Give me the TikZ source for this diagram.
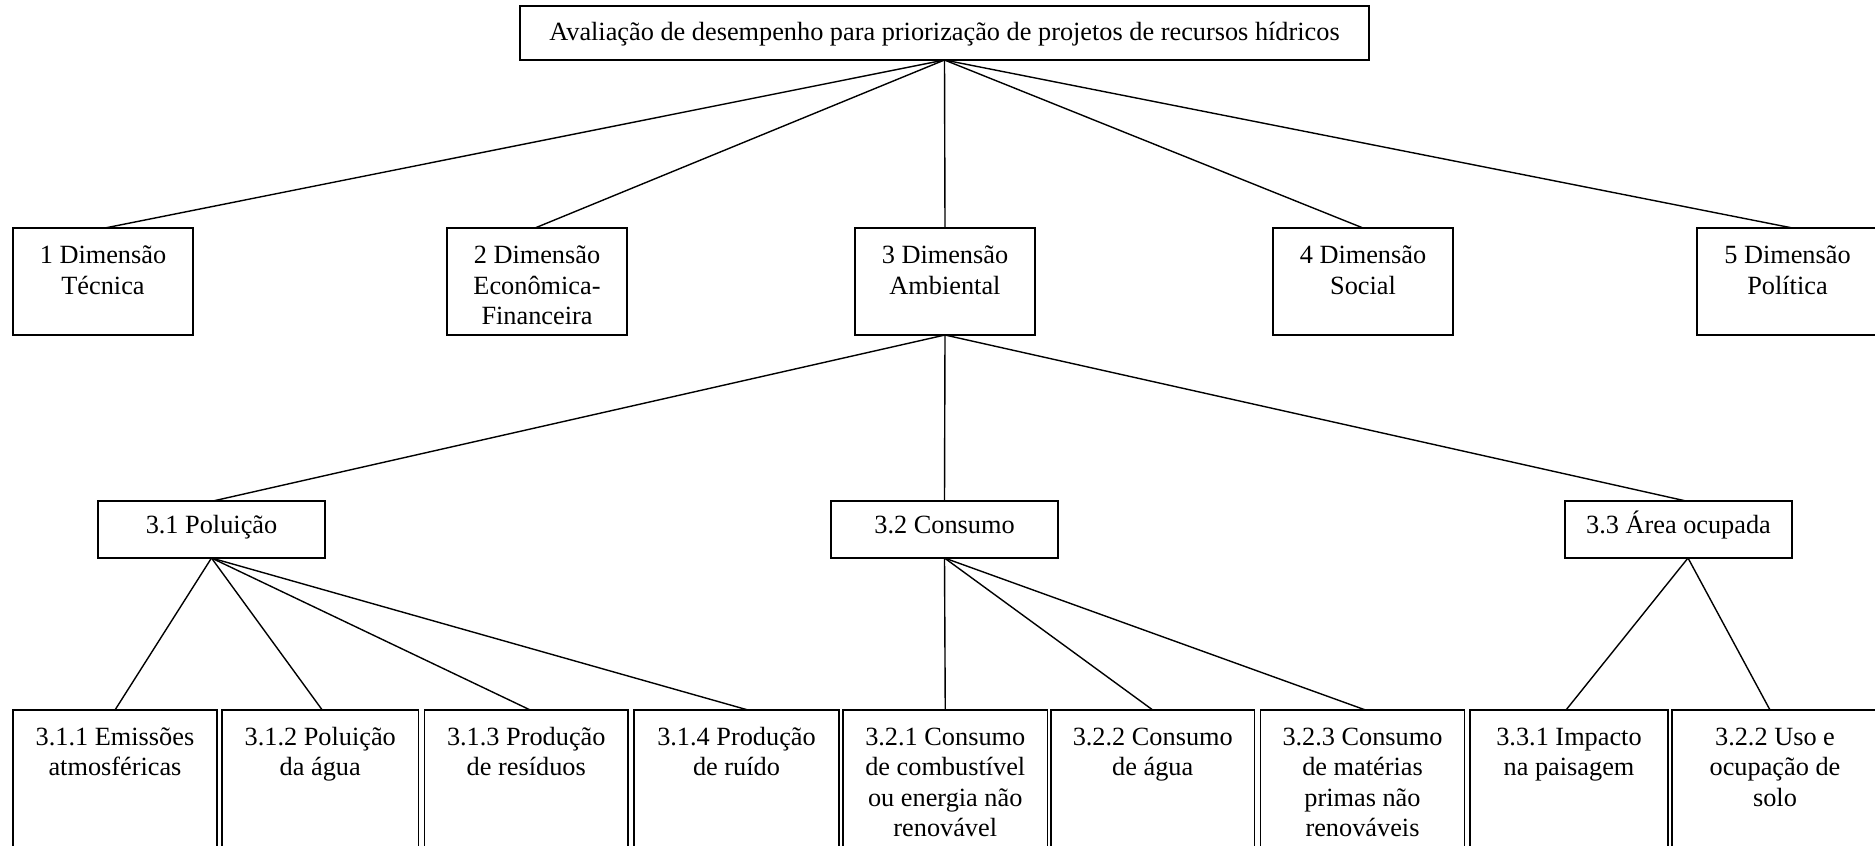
\documentclass[tikz,border=0pt]{standalone}
\usepackage{fontspec}
\setmainfont{Liberation Serif}
% one drawing unit = 0.5pt; coordinates below are given in these units, y downwards
\newdimen\pu \pu=0.5pt
% box contents: width, height, baseline of the first line from the top, text
\newcommand{\bxt}[4]{\parbox[c][#2\pu][t]{#1\pu}{\centering\rule{0pt}{#3\pu}#4}}
\tikzset{
  box/.style={draw, line width=0.7pt, inner sep=0pt, outer sep=0pt, anchor=north west,
              font=\fontsize{13.15pt}{15.25pt}\selectfont},
  link/.style={line width=0.7pt}
}
\begin{document}
\begin{tikzpicture}[x=0.5pt, y=-0.5pt]
\useasboundingbox (0,0) rectangle (1875,846);
\fill[white] (0,0) rectangle (1875,846);
\clip (0,0) rectangle (1875,846);

% root
\node[box] (root) at (520,6) {\bxt{849}{54}{35}{Avaliação de desempenho para priorização de projetos de recursos hídricos}};

% dimensions
\node[box] (d1) at (13,228)   {\bxt{180}{107}{35.5}{1 Dimensão\\Técnica}};
\node[box] (d2) at (447,228)  {\bxt{180}{107}{35.5}{2 Dimensão\\Econômica-\\Financeira}};
\node[box] (d3) at (855,228)  {\bxt{180}{107}{35.5}{3 Dimensão\\Ambiental}};
\node[box] (d4) at (1273,228) {\bxt{180}{107}{35.5}{4 Dimensão\\Social}};
\node[box] (d5) at (1697,228) {\bxt{181}{107}{35.5}{5 Dimensão\\Política}};

% environmental criteria
\node[box] (c1) at (98,501)   {\bxt{227}{57}{32.5}{3.1 Poluição}};
\node[box] (c2) at (831,501)  {\bxt{227}{57}{32.5}{3.2 Consumo}};
\node[box] (c3) at (1565,501) {\bxt{227}{57}{32.5}{3.3 Área ocupada}};

% sub-criteria (run past the lower edge)
\node[box] (s311) at (13,710)     {\bxt{204}{170}{35}{3.1.1 Emissões\\atmosféricas}};
\node[box] (s312) at (222,710)    {\bxt{196.5}{170}{35}{3.1.2 Poluição\\da água}};
\node[box] (s313) at (424.5,710)  {\bxt{203.5}{170}{35}{3.1.3 Produção\\de resíduos}};
\node[box] (s314) at (634,710)    {\bxt{205}{170}{35}{3.1.4 Produção\\de ruído}};
\node[box] (s321) at (843,710)    {\bxt{204.5}{170}{35}{3.2.1 Consumo\\de combustível\\ou energia não\\renovável}};
\node[box] (s322) at (1051,710)   {\bxt{203.5}{170}{35}{3.2.2 Consumo\\de água}};
\node[box] (s323) at (1260.5,710) {\bxt{204}{170}{35}{3.2.3 Consumo\\de matérias\\primas não\\renováveis}};
\node[box] (s331) at (1470,710)   {\bxt{198}{170}{35}{3.3.1 Impacto\\na paisagem}};
\node[box] (s332) at (1672,710)   {\bxt{206}{170}{35}{3.2.2 Uso e\\ocupação de\\solo}};

% tree links
\draw[link] (root.south) -- ([xshift=2\pu]d1.north);
\draw[link] (root.south) -- ([xshift=-2\pu]d2.north);
\draw[link] (root.south) -- (d3.north);
\draw[link] (root.south) -- (d4.north);
\draw[link] (root.south) -- ([xshift=5\pu]d5.north);

\draw[link] (d3.south) -- ([xshift=1.5\pu]c1.north);
\draw[link] (d3.south) -- (c2.north);
\draw[link] (d3.south) -- ([xshift=7.5\pu]c3.north);

\draw[link] (c1.south) -- (s311.north);
\draw[link] (c1.south) -- ([xshift=2\pu]s312.north);
\draw[link] (c1.south) -- ([xshift=4\pu]s313.north);
\draw[link] (c1.south) -- ([xshift=11.5\pu]s314.north);

\draw[link] (c2.south) -- (s321.north);
\draw[link] (c2.south) -- (s322.north);
\draw[link] (c2.south) -- ([xshift=3\pu]s323.north);

\draw[link] ([xshift=9.5\pu]c3.south) -- ([xshift=-3\pu]s331.north);
\draw[link] ([xshift=9.5\pu]c3.south) -- ([xshift=-5\pu]s332.north);
\end{tikzpicture}
\end{document}
